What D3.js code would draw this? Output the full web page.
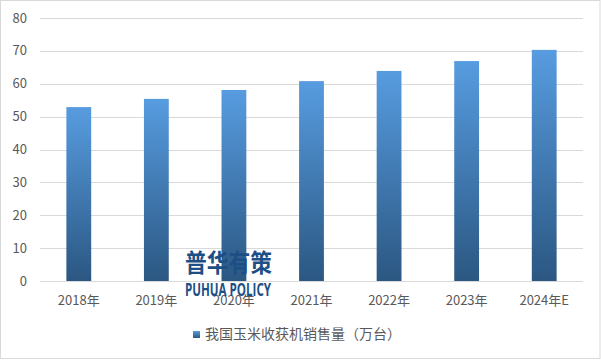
<!DOCTYPE html>
<html lang="zh">
<head>
  <meta charset="UTF-8" />
  <title>我国玉米收获机销售量</title>
  <script src="https://d3js.org/d3.v7.min.js"></script>
  <style>
    body { margin: 0; background: #fff; }
    text { font-family: "Noto Sans CJK SC", "Microsoft YaHei", sans-serif; fill: #595959; }
    .grid line { stroke: #d9d9d9; stroke-width: 1px; }
  </style>
</head>
<body>
  <svg id="chart" width="601" height="360"></svg>

  <script>
    const years = ['2018年', '2019年', '2020年', '2021年', '2022年', '2023年', '2024年E'];
    const sales = [52.9, 55.4, 58.1, 60.8, 63.9, 66.9, 70.3];
    const yTicks = [0, 10, 20, 30, 40, 50, 60, 70, 80];
    const seriesName = '我国玉米收获机销售量（万台）';

    const margin = { left: 40, right: 18, top: 18, bottom: 79 };
    const width = 601, height = 360;

    const svg = d3.select("#chart");

    // chart border
    svg.append("rect")
      .attr("x", 0.5).attr("y", 0.5)
      .attr("width", width - 1.5).attr("height", height - 2)
      .attr("fill", "#fff")
      .attr("stroke", "#d9d9d9");

    const x = d3.scaleBand()
      .domain(years)
      .range([margin.left, width - margin.right])
      .paddingInner(0.68)
      .paddingOuter(0.34);

    const y = d3.scaleLinear()
      .domain([0, 80])
      .range([height - margin.bottom, margin.top]);

    const defs = svg.append("defs");
    const grad = defs.append("linearGradient")
      .attr("id", "barGrad")
      .attr("x1", 0).attr("y1", 0).attr("x2", 0).attr("y2", 1);
    grad.append("stop").attr("offset", "0%").attr("stop-color", "#579ce0");
    grad.append("stop").attr("offset", "100%").attr("stop-color", "#2b5782");

    // gridlines
    svg.append("g")
      .attr("class", "grid")
      .selectAll("line")
      .data(yTicks)
      .enter()
      .append("line")
      .attr("x1", margin.left)
      .attr("x2", width - margin.right)
      .attr("y1", d => Math.round(y(d)) + 0.5)
      .attr("y2", d => Math.round(y(d)) + 0.5);

    // y labels
    svg.append("g")
      .selectAll("text")
      .data(yTicks)
      .enter()
      .append("text")
      .attr("x", 27)
      .attr("y", d => y(d) + 4.5)
      .attr("text-anchor", "end")
      .style("font-size", "13px")
      .text(d => d);

    // bars
    svg.append("g")
      .selectAll("rect")
      .data(sales)
      .enter()
      .append("rect")
      .attr("x", (d, i) => x(years[i]))
      .attr("y", d => y(d))
      .attr("width", x.bandwidth())
      .attr("height", d => y(0) - y(d))
      .attr("fill", "url(#barGrad)");

    // x labels
    svg.append("g")
      .selectAll("text")
      .data(years)
      .enter()
      .append("text")
      .attr("x", d => x(d) + x.bandwidth() / 2)
      .attr("y", 305)
      .attr("text-anchor", "middle")
      .style("font-size", "13px")
      .text(d => d);

    // watermark
    svg.append("text")
      .attr("x", 185).attr("y", 272)
      .attr("textLength", 87)
      .attr("lengthAdjust", "spacingAndGlyphs")
      .style("font-size", "25px")
      .style("font-weight", "bold")
      .style("fill", "#1d4f86")
      .text("普华有策");
    svg.append("text")
      .attr("x", 185).attr("y", 296)
      .attr("textLength", 86)
      .attr("lengthAdjust", "spacingAndGlyphs")
      .style("font-size", "17px")
      .style("font-weight", "bold")
      .style("fill", "#1d4f86")
      .style("font-family", "'Open Sans', sans-serif")
      .text("PUHUA POLICY");

    // legend
    const legend = svg.append("g").attr("transform", "translate(193,331)");
    legend.append("rect")
      .attr("width", 7).attr("height", 7)
      .attr("fill", "url(#barGrad)");
    legend.append("text")
      .attr("x", 12).attr("y", 8)
      .style("font-size", "14px")
      .text(seriesName);
  </script>
</body>
</html>
